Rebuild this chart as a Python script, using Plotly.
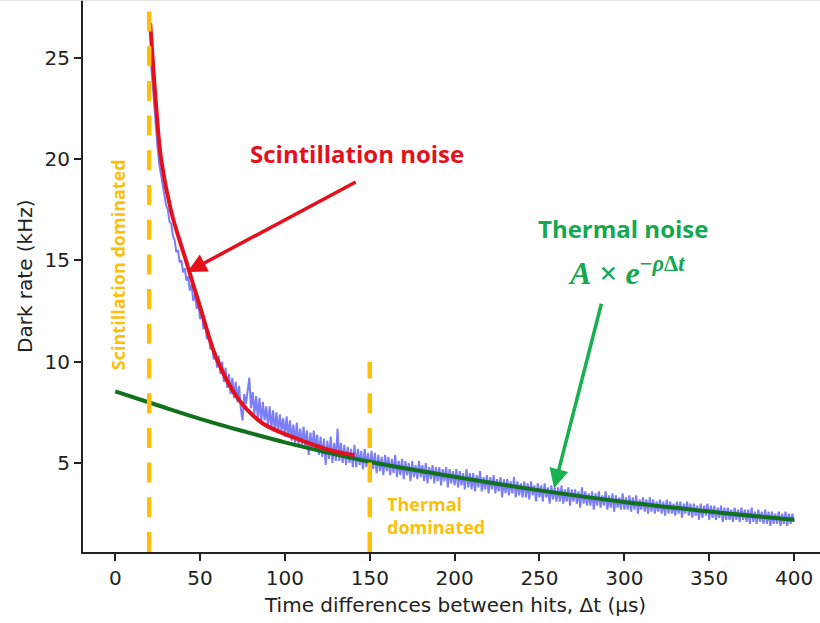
import plotly.graph_objects as go

# ---------------- data ----------------
# measured dark rate (kHz) vs time difference between hits (µs), 1 µs bins, 21..400
measured_t = list(range(21, 401))
measured_rate = [
    24.8, 23.6, 22.4, 21.4, 20.5, 19.7, 19.2, 18.5, 18.2, 17.7,
    17.5, 16.9, 16.8, 16.2, 16.0, 15.4, 15.5, 14.9, 15.0, 14.4,
    14.6, 14.0, 14.2, 13.5, 13.8, 13.0, 13.3, 12.6, 12.9, 12.1,
    12.5, 11.6, 12.0, 11.1, 11.5, 10.6, 11.0, 10.1, 10.5, 9.7,
    10.3, 9.4, 10.0, 9.0, 9.7, 8.7, 9.4, 8.4, 9.2, 8.2,
    9.0, 8.0, 8.8, 7.7, 7.1, 8.4, 7.9, 8.7, 9.2, 7.7,
    8.5, 7.4, 8.3, 7.2, 8.2, 7.0, 8.0, 7.1, 7.8, 6.8,
    7.8, 6.7, 7.6, 6.6, 7.5, 6.5, 7.4, 6.6, 7.2, 6.3,
    7.3, 6.3, 7.1, 6.1, 6.9, 6.0, 7.0, 5.9, 6.7, 5.9,
    6.8, 5.8, 6.6, 5.4, 6.5, 5.7, 6.6, 5.6, 6.4, 5.4,
    6.3, 5.3, 6.2, 4.9, 6.1, 5.2, 6.3, 5.0, 6.0, 5.1,
    6.7, 5.1, 6.0, 5.0, 5.9, 4.9, 5.8, 5.0, 5.7, 4.8,
    5.9, 4.8, 5.7, 4.9, 5.6, 4.7, 5.7, 4.8, 5.5, 4.6,
    5.6, 4.7, 5.5, 4.5, 5.4, 4.6, 5.3, 4.4, 5.4, 4.6,
    5.3, 4.4, 5.2, 4.5, 5.4, 4.3, 5.1, 4.4, 5.2, 4.2,
    5.1, 4.4, 5.0, 4.1, 5.1, 4.3, 4.9, 4.2, 5.1, 4.3,
    4.9, 4.1, 5.0, 4.0, 4.8, 4.2, 4.9, 4.0, 4.8, 4.1,
    4.8, 3.9, 4.7, 4.1, 4.8, 3.8, 4.7, 4.0, 4.6, 3.9,
    4.7, 3.8, 4.6, 3.9, 4.5, 3.7, 4.7, 3.8, 4.5, 3.7,
    4.5, 3.6, 4.4, 3.8, 4.6, 3.6, 4.3, 3.7, 4.4, 3.5,
    4.3, 3.7, 4.4, 3.5, 4.2, 3.6, 4.3, 3.3, 4.2, 3.5,
    4.2, 3.4, 4.1, 3.5, 4.3, 3.3, 4.1, 3.4, 4.0, 3.3,
    4.1, 3.3, 4.0, 3.2, 4.1, 3.4, 3.9, 3.1, 4.0, 3.3,
    3.9, 3.1, 4.0, 3.3, 3.8, 3.0, 3.9, 3.2, 3.8, 3.1,
    3.8, 3.1, 3.9, 3.0, 3.7, 3.1, 3.8, 2.9, 3.7, 3.1,
    3.7, 3.0, 3.6, 2.8, 3.8, 3.0, 3.6, 2.9, 3.5, 2.9,
    3.6, 2.7, 3.5, 2.9, 3.6, 2.8, 3.4, 2.9, 3.6, 2.7,
    3.4, 2.8, 3.5, 2.6, 3.4, 2.8, 3.3, 2.7, 3.5, 2.7,
    3.3, 2.7, 3.4, 2.6, 3.3, 2.7, 3.4, 2.5, 3.2, 2.7,
    3.3, 2.6, 3.2, 2.5, 3.3, 2.6, 3.2, 2.5, 3.1, 2.6,
    3.2, 2.5, 3.1, 2.4, 3.2, 2.5, 3.1, 2.5, 3.0, 2.4,
    3.1, 2.5, 3.1, 2.3, 3.0, 2.5, 3.1, 2.4, 3.0, 2.3,
    3.0, 2.4, 2.9, 2.2, 3.0, 2.3, 2.9, 2.4, 3.0, 2.2,
    2.9, 2.3, 2.9, 2.2, 2.8, 2.3, 2.9, 2.1, 2.8, 2.2,
    2.8, 2.2, 2.7, 2.1, 2.8, 2.2, 2.7, 2.1, 2.8, 2.2,
    2.7, 2.1, 2.7, 2.0, 2.8, 2.1, 2.6, 2.0, 2.7, 2.1,
    2.6, 2.0, 2.7, 2.0, 2.6, 1.9, 2.6, 2.0, 2.5, 2.0,
    2.6, 1.9, 2.5, 2.0, 2.6, 1.9, 2.5, 2.0, 2.5, 2.1,
]

# scintillation fit (red)
scint_t = [20.6, 22.0, 24.0, 27.0, 33.0, 42.0, 50.0, 60.0, 73.0, 87.0, 107.0, 126.0, 141.0]
scint_rate = [26.7, 25.0, 22.7, 20.0, 17.4, 14.9, 12.7, 10.1, 8.1, 6.95, 6.2, 5.65, 5.38]

# thermal fit A*exp(-rho*dt) (green)
thermal_t = [0, 25, 50, 75, 100, 150, 200, 250, 300, 350, 400]
thermal_rate = [8.53, 7.85, 7.18, 6.58, 6.02, 5.06, 4.32, 3.65, 3.08, 2.61, 2.20]

# region boundaries (µs) and the top of the thermal boundary marker (kHz)
scint_boundary = 20
thermal_boundary = 150
thermal_boundary_top = 10

x_ticks = [0, 50, 100, 150, 200, 250, 300, 350, 400]
y_ticks = [5, 10, 15, 20, 25]

X_RANGE = [-19.0, 415.3]
Y_RANGE = [0.61, 27.84]

# ---------------- colours ----------------
BLUE = "#7b7ef6"
RED = "#e5101c"
DKGREEN = "#12711c"
TXTGREEN = "#14a84f"
GOLD = "#fcbf0a"
AXIS = "#222222"
TXTFONT = "Open Sans"

fig = go.Figure()

fig.add_trace(go.Scatter(x=measured_t, y=measured_rate, mode="lines",
                         line=dict(color=BLUE, width=2.0), hoverinfo="skip"))
fig.add_trace(go.Scatter(x=thermal_t, y=thermal_rate, mode="lines",
                         line=dict(color=DKGREEN, width=4, shape="spline"), hoverinfo="skip"))
fig.add_trace(go.Scatter(x=scint_t, y=scint_rate, mode="lines",
                         line=dict(color=RED, width=4, shape="spline", smoothing=1.0),
                         hoverinfo="skip"))

# dashed boundaries
fig.add_shape(type="line", xref="x", yref="y", x0=scint_boundary, x1=scint_boundary,
              y0=Y_RANGE[0], y1=Y_RANGE[1], line=dict(color=GOLD, width=4.5, dash="20px,14.7px"),
              layer="above")
fig.add_shape(type="line", xref="x", yref="y", x0=thermal_boundary, x1=thermal_boundary,
              y0=Y_RANGE[0], y1=thermal_boundary_top,
              line=dict(color=GOLD, width=4.5, dash="20px,14.7px"), layer="above")

# faint frame line along the top edge
fig.add_shape(type="line", xref="paper", yref="paper", x0=-0.2, x1=1.0, y0=1, y1=1,
              line=dict(color="#dcdcdc", width=1.5))

# ---------------- annotations ----------------
C = dict(xanchor="center", yanchor="middle", showarrow=False)
ann = []
ann.append(dict(x=142.6, y=20.25, xref="x", yref="y", text="<b>Scintillation noise</b>",
                font=dict(family=TXTFONT, size=24, color=RED), **C))
ann.append(dict(x=42.5, y=14.42, ax=142.6, ay=18.9, xref="x", yref="y", axref="x", ayref="y",
                text="", showarrow=True, arrowhead=2, arrowsize=1.1, arrowwidth=3.5,
                arrowcolor=RED))
ann.append(dict(x=299.4, y=16.58, xref="x", yref="y", text="<b>Thermal noise</b>",
                font=dict(family=TXTFONT, size=24, color=TXTGREEN), **C))
ann.append(dict(x=301.4, y=14.45, xref="x", yref="y",
                text="<b><i>A</i> × <i>e</i><sup>−<i>ρ</i>Δ<i>t</i></sup></b>",
                font=dict(family="Liberation Serif", size=32, color=TXTGREEN), **C))
ann.append(dict(x=258.6, y=3.76, ax=286.7, ay=12.93, xref="x", yref="y", axref="x", ayref="y",
                text="", showarrow=True, arrowhead=2, arrowsize=1.1, arrowwidth=3.5,
                arrowcolor="#19b050"))
ann.append(dict(x=2.1, y=14.8, xref="x", yref="y", text="<b>Scintillation dominated</b>",
                textangle=-90, font=dict(family=TXTFONT, size=18, color=GOLD), **C))
ann.append(dict(x=158.8, y=2.39, xref="x", yref="y", text="<b>Thermal<br>dominated</b>",
                xanchor="left", yanchor="middle", align="left", showarrow=False,
                font=dict(family=TXTFONT, size=18, color=GOLD)))
# axis titles
ann.append(dict(x=(455 - 83) / 737, y=1 - 605 / 552, xref="paper", yref="paper",
                text="Time differences between hits, Δt (µs)",
                font=dict(family="DejaVu Sans", size=20, color=AXIS), **C))
ann.append(dict(x=(25 - 83) / 737, y=1 - 276 / 552, xref="paper", yref="paper",
                text="Dark rate (kHz)", textangle=-90,
                font=dict(family="DejaVu Sans", size=20, color=AXIS), **C))

fig.update_layout(
    width=820, height=623,
    margin=dict(l=83, r=0, t=0, b=71, autoexpand=False),
    paper_bgcolor="white", plot_bgcolor="white",
    showlegend=False,
    annotations=ann,
    xaxis=dict(range=X_RANGE, tickvals=x_ticks, ticktext=[str(v) for v in x_ticks],
               automargin=False,
               showgrid=False, zeroline=False, showline=True, linecolor=AXIS, linewidth=2,
               ticks="outside", ticklen=7, tickwidth=1.5, tickcolor=AXIS,
               tickfont=dict(family="DejaVu Sans", size=20, color=AXIS)),
    yaxis=dict(range=Y_RANGE, tickvals=y_ticks, ticktext=[str(v) for v in y_ticks],
               automargin=False,
               showgrid=False, zeroline=False, showline=True, linecolor=AXIS, linewidth=2,
               ticks="outside", ticklen=7, tickwidth=1.5, tickcolor=AXIS,
               tickfont=dict(family="DejaVu Sans", size=20, color=AXIS)),
)

fig.write_html("out.html", config={"displayModeBar": False},
               post_script="document.body.style.margin='0px';document.body.style.overflow='hidden';")
